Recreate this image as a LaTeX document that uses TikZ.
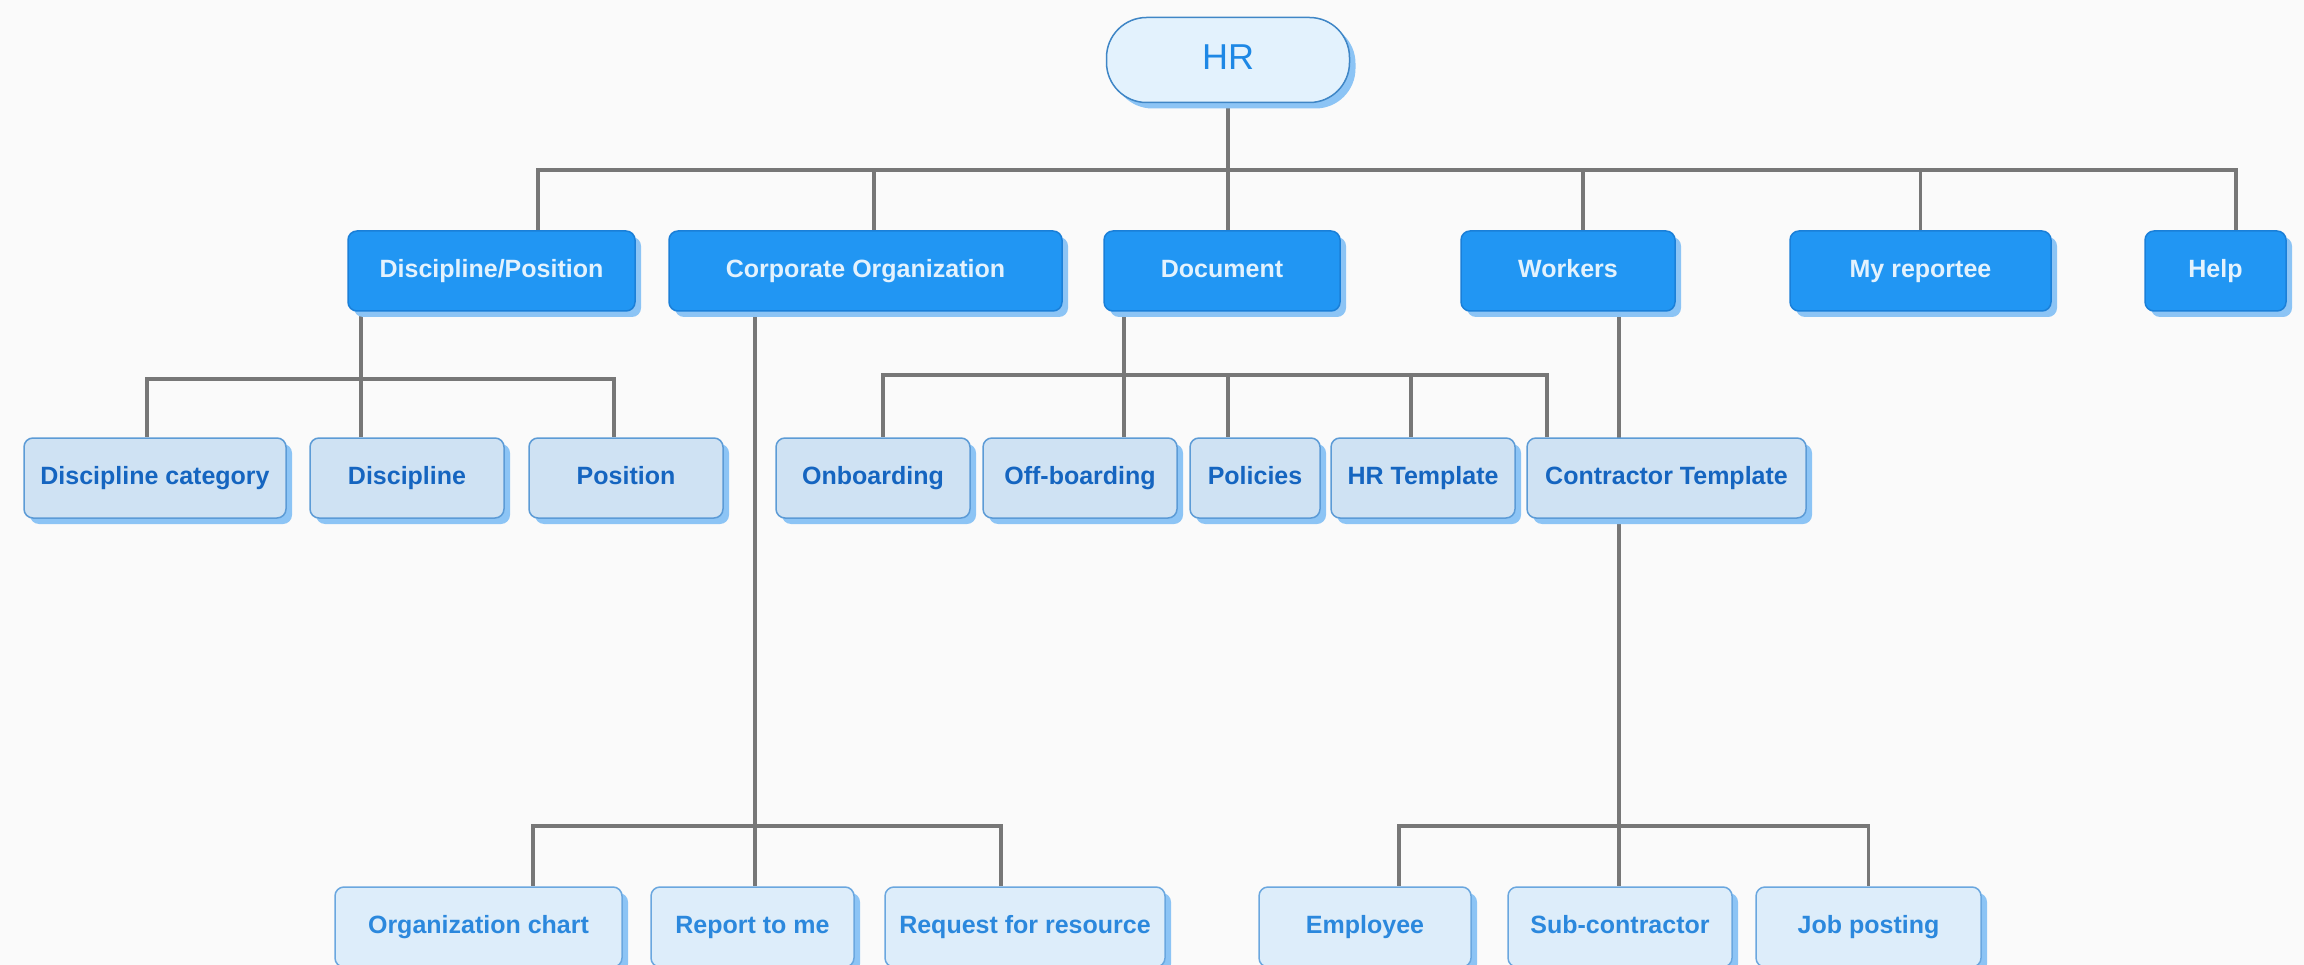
\documentclass[tikz,border=0pt]{standalone}
\usepackage{fontspec}
\setmainfont{Liberation Sans}
\usetikzlibrary{shadows}

\definecolor{bgcol}{HTML}{FAFAFA}
\definecolor{linecol}{HTML}{777777}
\definecolor{hrfill}{HTML}{E3F2FD}
\definecolor{hrdraw}{HTML}{3F86C6}
\definecolor{hrtext}{HTML}{1E88E5}
\definecolor{mainfill}{HTML}{2196F3}
\definecolor{maindraw}{HTML}{1A7FD8}
\definecolor{maintext}{HTML}{E3F2FD}
\definecolor{subfill}{HTML}{CFE2F3}
\definecolor{subdraw}{HTML}{5C9BD6}
\definecolor{subtext}{HTML}{1565C0}
\definecolor{leaffill}{HTML}{DDEDFA}
\definecolor{leafdraw}{HTML}{6AA7DF}
\definecolor{leaftext}{HTML}{2B88DD}
\definecolor{shadecol}{HTML}{8CC4F5}

\pgfdeclarelayer{background}
\pgfsetlayers{background,main}

\tikzset{
  box/.style={rounded corners=9pt, line width=1.5pt, minimum height=80pt,
    inner sep=0pt, text height=18pt, text depth=5pt,
    font=\fontsize{25}{30}\selectfont\bfseries,
    general shadow={fill=shadecol, shadow xshift=6pt, shadow yshift=-6pt}},
  hrbox/.style={box, rounded corners=40pt, fill=hrfill, draw=hrdraw, text=hrtext,
    font=\fontsize{36}{40}\selectfont, text height=26pt, text depth=6pt,
    minimum height=85pt},
  mainbox/.style={box, fill=mainfill, draw=maindraw, text=maintext},
  subbox/.style={box, fill=subfill, draw=subdraw, text=subtext},
  leafbox/.style={box, fill=leaffill, draw=leafdraw, text=leaftext},
  conn/.style={draw=linecol, line width=3.5pt}
}

\begin{document}
\begin{tikzpicture}[x=1pt,y=-1pt]
	\clip (0,0) rectangle (2304,965);

	% root
	\node[hrbox, minimum width=243pt] (hr) at (1228,60) {HR};

	% first level
	\node[mainbox, minimum width=287pt] (dispos)   at (491.5,271)  {Discipline/Position};
	\node[mainbox, minimum width=393pt] (corporg)  at (865.5,271)  {Corporate Organization};
	\node[mainbox, minimum width=236pt] (document) at (1222,271)   {Document};
	\node[mainbox, minimum width=214pt] (workers)  at (1568,271)   {Workers};
	\node[mainbox, minimum width=261pt] (reportee) at (1920.5,271) {My reportee};
	\node[mainbox, minimum width=141pt] (help)     at (2215.5,271) {Help};

	% second level
	\node[subbox, minimum width=262pt] (disccat)  at (155,478)    {Discipline category};
	\node[subbox, minimum width=194pt] (disc)     at (407,478)    {Discipline};
	\node[subbox, minimum width=194pt] (position) at (626,478)    {Position};
	\node[subbox, minimum width=194pt] (onboard)  at (873,478)    {Onboarding};
	\node[subbox, minimum width=194pt] (offboard) at (1080,478)   {Off-boarding};
	\node[subbox, minimum width=130pt] (policies) at (1255,478)   {Policies};
	\node[subbox, minimum width=184pt] (hrtempl)  at (1423,478)   {HR Template};
	\node[subbox, minimum width=279pt] (contempl) at (1666.5,478) {Contractor Template};

	% third level
	\node[leafbox, minimum width=287pt] (orgchart) at (478.5,927)  {Organization chart};
	\node[leafbox, minimum width=203pt] (reportme) at (752.5,927)  {Report to me};
	\node[leafbox, minimum width=280pt] (request)  at (1025,927)   {Request for resource};
	\node[leafbox, minimum width=212pt] (employee) at (1365,927)   {Employee};
	\node[leafbox, minimum width=224pt] (subcon)   at (1620,927)   {Sub-contractor};
	\node[leafbox, minimum width=225pt] (jobpost)  at (1868.5,927) {Job posting};

	\coordinate (hrbus)  at (1228,170);
	\coordinate (dpbus)  at (361,379);
	\coordinate (docbus) at (1124,375);
	\coordinate (cobus)  at (755,826);
	\coordinate (wkbus)  at (1619,826);

	\begin{pgfonlayer}{background}
		\fill[bgcol] (0,0) rectangle (2304,965);

		\draw[conn] (hr.south) -- (hrbus);
		\draw[conn] (hrbus) -| ([xshift=46.5pt]dispos.north);
		\draw[conn] (hrbus) -| ([xshift=8.5pt]corporg.north);
		\draw[conn] (hrbus) -| ([xshift=6pt]document.north);
		\draw[conn] (hrbus) -| ([xshift=15pt]workers.north);
		\draw[conn] (hrbus) -| (reportee.north);
		\draw[conn] (hrbus) -| ([xshift=20.5pt]help.north);

		\draw[conn] ([xshift=-130.5pt]dispos.south) -- (dpbus);
		\draw[conn] (dpbus) -| ([xshift=-8pt]disccat.north);
		\draw[conn] (dpbus) -| ([xshift=-46pt]disc.north);
		\draw[conn] (dpbus) -| ([xshift=-12pt]position.north);

		\draw[conn] ([xshift=-98pt]document.south) -- (docbus);
		\draw[conn] (docbus) -| ([xshift=10pt]onboard.north);
		\draw[conn] (docbus) -| ([xshift=44pt]offboard.north);
		\draw[conn] (docbus) -| ([xshift=-27pt]policies.north);
		\draw[conn] (docbus) -| ([xshift=-12pt]hrtempl.north);
		\draw[conn] (docbus) -| ([xshift=-119.5pt]contempl.north);

		\draw[conn] ([xshift=-110.5pt]corporg.south) -- (cobus);
		\draw[conn] (cobus) -| ([xshift=54.5pt]orgchart.north);
		\draw[conn] (cobus) -| ([xshift=2.5pt]reportme.north);
		\draw[conn] (cobus) -| ([xshift=-24pt]request.north);

		\draw[conn] ([xshift=51pt]workers.south) -- (wkbus);
		\draw[conn] (wkbus) -| ([xshift=34pt]employee.north);
		\draw[conn] (wkbus) -| ([xshift=-1pt]subcon.north);
		\draw[conn] (wkbus) -| (jobpost.north);
	\end{pgfonlayer}
\end{tikzpicture}
\end{document}
